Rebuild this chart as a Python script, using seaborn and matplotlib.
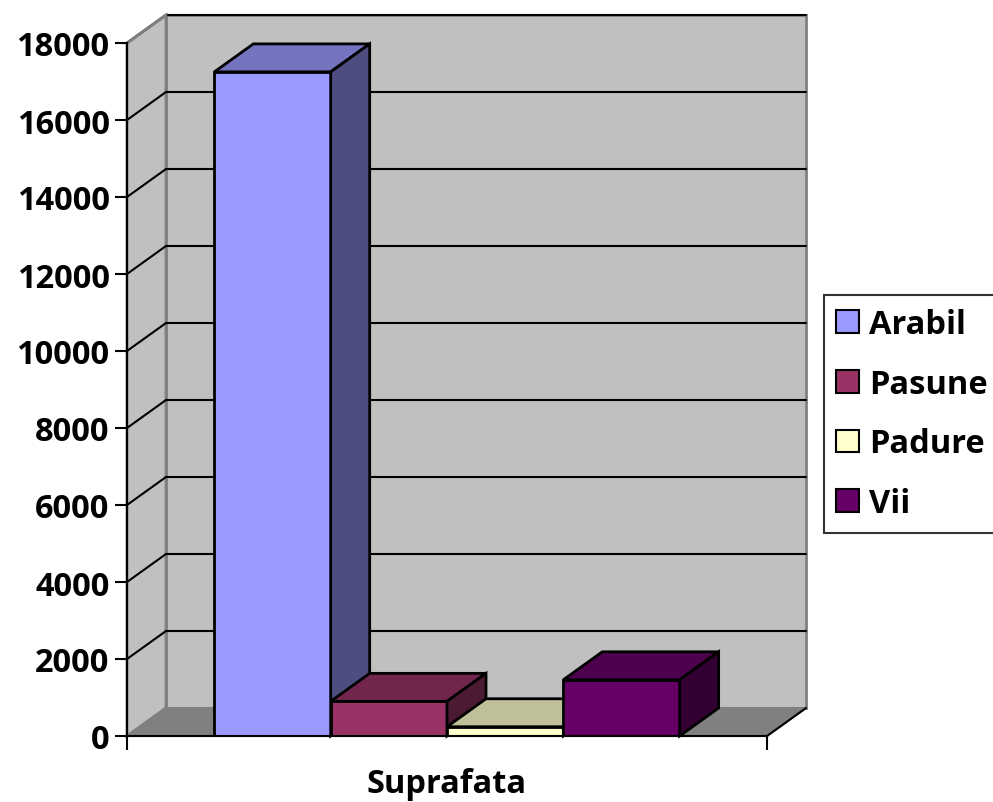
import numpy as np
import pandas as pd
import matplotlib
matplotlib.use("Agg")
import matplotlib.pyplot as plt
import seaborn as sns
from matplotlib.patches import Polygon, Patch
import matplotlib.colors as mcolors

# ---- data ----
category = ["Suprafata"]
series = ["Arabil", "Pasune", "Padure", "Vii"]
values = [17250, 900, 240, 1460]
front_colors = ["#9999FF", "#993366", "#FFFFCC", "#660066"]
yticks = [0, 2000, 4000, 6000, 8000, 10000, 12000, 14000, 16000, 18000]

df = pd.DataFrame({"cat": category * len(series), "type": series, "val": values})

sns.set_theme(style="white")
plt.rcParams["font.family"] = ["Open Sans", "DejaVu Sans"]
plt.rcParams["font.weight"] = "bold"
plt.rcParams["text.color"] = "black"
plt.rcParams["xtick.labelcolor"] = "black"
plt.rcParams["ytick.labelcolor"] = "black"
plt.rcParams["axes.labelcolor"] = "black"

FS = 23.5

W, H = 993, 803
fig = plt.figure(figsize=(W / 100, H / 100), dpi=100)
x0, x1, y0, y1 = 127, 767, 737, 44
ax = fig.add_axes([x0 / W, (H - y0) / H, (x1 - x0) / W, (y0 - y1) / H])
ax.set_facecolor("none")

sns.barplot(data=df, x="cat", y="val", hue="type", palette=front_colors,
            width=0.727, edgecolor="black", linewidth=2, saturation=1,
            ax=ax, legend=False, zorder=3)

ax.set_xlim(-0.5, 0.5)
ax.set_ylim(0, 18000)

# depth offset (pixels -> data units)
px_x = 1.0 / (x1 - x0)
px_y = 18000 / (y0 - y1)
dx, dy = 39 * px_x, 28 * px_y

xa, xb = -0.5, 0.5
ymax = 18000
# back wall
ax.add_patch(Polygon([(xa + dx, dy), (xb + dx, dy), (xb + dx, ymax + dy), (xa + dx, ymax + dy)],
                     closed=True, facecolor="#C0C0C0", edgecolor="#808080", lw=2,
                     clip_on=False, zorder=0.1))
# left wall
ax.add_patch(Polygon([(xa, 0), (xa, ymax), (xa + dx, ymax + dy), (xa + dx, dy)],
                     closed=True, facecolor="#C0C0C0", edgecolor="#808080", lw=2,
                     clip_on=False, zorder=0.2))
# floor
ax.add_patch(Polygon([(xa, 0), (xb, 0), (xb + dx, dy), (xa + dx, dy)],
                     closed=True, facecolor="#808080", edgecolor="#808080", lw=1.5,
                     clip_on=False, zorder=0.3))
ax.plot([xb, xb + dx], [0, dy], color="black", lw=1.5, clip_on=False, zorder=0.4)

# gridlines on back and left wall
for t in yticks[1:]:
    ax.plot([xa + dx, xb + dx], [t + dy, t + dy], color="black", lw=1.5, clip_on=False, zorder=0.5)
    ax.plot([xa, xa + dx], [t, t + dy], color="black", lw=1.5, clip_on=False, zorder=0.5)
ax.plot([xa, xa + dx], [ymax, ymax + dy], color="#808080", lw=2, clip_on=False, zorder=0.5)


def shade(c, f):
    r, g, b = mcolors.to_rgb(c)
    return (r * f, g * f, b * f)


# 3D faces derived from the seaborn bars
bars = sorted([p for p in ax.patches if p.get_zorder() == 3], key=lambda p: p.get_x())
for i, p in enumerate(bars):
    bx, bw, bh = p.get_x(), p.get_width(), p.get_height()
    fc = p.get_facecolor()
    z = 3 + i * 0.1
    p.set_zorder(z)
    top = Polygon([(bx, bh), (bx + bw, bh), (bx + bw + dx, bh + dy), (bx + dx, bh + dy)],
                  closed=True, facecolor=shade(fc, 0.75), edgecolor="black", lw=2,
                  clip_on=False, zorder=z + 0.01)
    side = Polygon([(bx + bw, 0), (bx + bw, bh), (bx + bw + dx, bh + dy), (bx + bw + dx, dy)],
                   closed=True, facecolor=shade(fc, 0.5), edgecolor="black", lw=2,
                   clip_on=False, zorder=z + 0.01)
    ax.add_patch(top)
    ax.add_patch(side)

# axes styling
for s in ["top", "right"]:
    ax.spines[s].set_visible(False)
for s in ["left", "bottom"]:
    ax.spines[s].set_color("black")
    ax.spines[s].set_linewidth(1.5)
    ax.spines[s].set_zorder(10)

ax.set_yticks(yticks)
ax.set_yticklabels([str(t) for t in yticks], fontsize=FS, fontweight="bold", color="black")
ax.tick_params(axis="y", direction="out", length=8.5, width=1.5, color="black", pad=4, left=True)
ax.set_xticks([0])
ax.set_xticklabels(category, fontsize=FS, fontweight="bold", color="black")
ax.tick_params(axis="x", length=0, pad=22)
ax.set_xticks([-0.5, 0.5], minor=True)
ax.tick_params(axis="x", which="minor", direction="out", length=10, width=1.5, color="black", bottom=True)
ax.set_xlabel("")
ax.set_ylabel("")

handles = [Patch(facecolor=c, edgecolor="black", lw=1.5, label=s) for c, s in zip(front_colors, series)]
leg = fig.legend(handles=handles, loc="center left", bbox_to_anchor=(824 / W, (H - 415) / H),
                 frameon=True, fancybox=False, edgecolor="black",
                 prop={"weight": "bold", "size": FS}, handlelength=0.7, handleheight=0.7,
                 handletextpad=0.3, labelspacing=0.82, borderpad=0.38, borderaxespad=0)
leg.get_frame().set_linewidth(1.5)
for t in leg.get_texts():
    t.set_color("black")

fig.savefig("out.png", dpi=100)
